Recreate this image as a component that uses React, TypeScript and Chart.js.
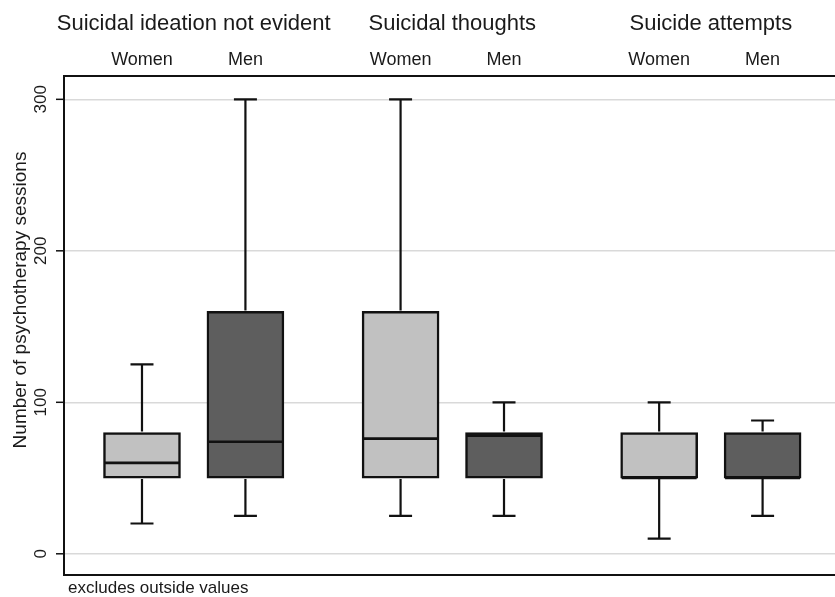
import React, { useEffect, useRef } from "react";
import { Chart, registerables } from "chart.js";

Chart.register(...registerables);

const groupTitles = ["Suicidal ideation not evident", "Suicidal thoughts", "Suicide attempts"];
const groupCenters = [1.5, 4, 6.5];
const boxLabels = ["Women", "Men", "Women", "Men", "Women", "Men"];
const boxPositions = [1, 2, 3.5, 4.5, 6, 7];
const minVals = [20, 25, 25, 25, 10, 25];
const q1Vals = [50, 50, 50, 50, 50, 50];
const medianVals = [60, 74, 76, 78, 50, 50];
const q3Vals = [80, 160, 160, 80, 80, 80];
const maxVals = [125, 300, 300, 100, 100, 88];
const yTicks = [0, 100, 200, 300];
const yTitle = "Number of psychotherapy sessions";
const footnote = "excludes outside values";

const FONT = '"Liberation Sans", Arial, sans-serif';
const LIGHT = "#c1c1c1";
const DARK = "#5e5e5e";
const INK = "#1a1a1a";
const BOX_W = 77;

export default function App() {
  const ref = useRef<HTMLCanvasElement | null>(null);

  useEffect(() => {
    document.body.style.margin = "0";
    const canvas = ref.current;
    if (!canvas) return;

    const boxPlugin = {
      id: "boxExtras",
      afterDatasetsDraw(chart: any) {
        const ctx = chart.ctx;
        const xs = chart.scales.x;
        const ys = chart.scales.y;
        ctx.save();
        ctx.strokeStyle = "#111";
        ctx.lineWidth = 2.2;
        boxPositions.forEach((p, i) => {
          const x = xs.getPixelForValue(p);
          const yMax = ys.getPixelForValue(maxVals[i]);
          const yQ3 = ys.getPixelForValue(q3Vals[i]);
          const yQ1 = ys.getPixelForValue(q1Vals[i]);
          const yMin = ys.getPixelForValue(minVals[i]);
          const yMed = ys.getPixelForValue(medianVals[i]);
          ctx.beginPath();
          ctx.moveTo(x, yQ3 - 1);
          ctx.lineTo(x, yMax);
          ctx.moveTo(x - 11.5, yMax);
          ctx.lineTo(x + 11.5, yMax);
          ctx.moveTo(x, yQ1 + 1);
          ctx.lineTo(x, yMin);
          ctx.moveTo(x - 11.5, yMin);
          ctx.lineTo(x + 11.5, yMin);
          ctx.stroke();
          ctx.beginPath();
          ctx.lineWidth = 2.6;
          ctx.moveTo(x - BOX_W / 2 + 1, yMed);
          ctx.lineTo(x + BOX_W / 2 - 1, yMed);
          ctx.stroke();
          ctx.lineWidth = 2.2;
        });
        ctx.restore();
      },
      afterDraw(chart: any) {
        const ctx = chart.ctx;
        const xs = chart.scales.x;
        const ys = chart.scales.y;
        const a = chart.chartArea;
        ctx.save();
        ctx.strokeStyle = "#111";
        ctx.lineWidth = 2;
        ctx.beginPath();
        ctx.moveTo(a.left, a.top);
        ctx.lineTo(a.right, a.top);
        ctx.moveTo(a.left, a.top - 1);
        ctx.lineTo(a.left, a.bottom + 1);
        ctx.moveTo(a.left, a.bottom);
        ctx.lineTo(a.right, a.bottom);
        ctx.stroke();
        ctx.lineWidth = 1.5;
        yTicks.forEach((t) => {
          const y = ys.getPixelForValue(t);
          ctx.beginPath();
          ctx.moveTo(a.left - 8, y);
          ctx.lineTo(a.left, y);
          ctx.stroke();
        });
        ctx.fillStyle = INK;
        ctx.font = `17px ${FONT}`;
        ctx.textAlign = "center";
        ctx.textBaseline = "middle";
        yTicks.forEach((t) => {
          const y = ys.getPixelForValue(t);
          ctx.save();
          ctx.translate(41, y);
          ctx.rotate(-Math.PI / 2);
          ctx.fillText(String(t), 0, 0);
          ctx.restore();
        });
        ctx.font = `19px ${FONT}`;
        ctx.save();
        ctx.translate(21, 300);
        ctx.rotate(-Math.PI / 2);
        ctx.fillText(yTitle, 0, 0);
        ctx.restore();
        ctx.textBaseline = "alphabetic";
        ctx.font = `22px ${FONT}`;
        groupTitles.forEach((g, i) => {
          ctx.fillText(g, xs.getPixelForValue(groupCenters[i]), 30);
        });
        ctx.font = `18px ${FONT}`;
        boxLabels.forEach((l, i) => {
          ctx.fillText(l, xs.getPixelForValue(boxPositions[i]), 65);
        });
        ctx.textAlign = "left";
        ctx.font = `17px ${FONT}`;
        ctx.fillText(footnote, 68, 593);
        ctx.restore();
      },
    };

    const chart = new Chart(canvas, {
      type: "bar",
      data: {
        datasets: [
          {
            data: boxPositions.map((p, i) => ({ x: p, y: [q1Vals[i], q3Vals[i]] })) as any,
            backgroundColor: boxLabels.map((l) => (l === "Women" ? LIGHT : DARK)),
            borderColor: "#111",
            borderWidth: 2.5,
            borderSkipped: false,
            barThickness: BOX_W,
          },
        ],
      },
      options: {
        responsive: false,
        animation: false,
        layout: { padding: { top: 76, bottom: 22, left: 0, right: 0 } },
        plugins: { legend: { display: false }, tooltip: { enabled: false }, title: { display: false } },
        scales: {
          x: {
            type: "linear",
            min: 0.246,
            max: 7.7,
            display: false,
            offset: false,
          },
          y: {
            min: -14,
            max: 315.4,
            ticks: { display: false, stepSize: 100 },
            grid: { color: "#d9d9d9", lineWidth: 1.5, drawTicks: false },
            border: { display: false },
            afterBuildTicks: (scale: any) => {
              scale.ticks = yTicks.map((v) => ({ value: v }));
            },
            afterFit: (scale: any) => {
              scale.width = 64;
            },
          } as any,
        },
      },
      plugins: [boxPlugin],
    });

    return () => chart.destroy();
  }, []);

  return <canvas ref={ref} width={835} height={597} style={{ display: "block" }} />;
}
